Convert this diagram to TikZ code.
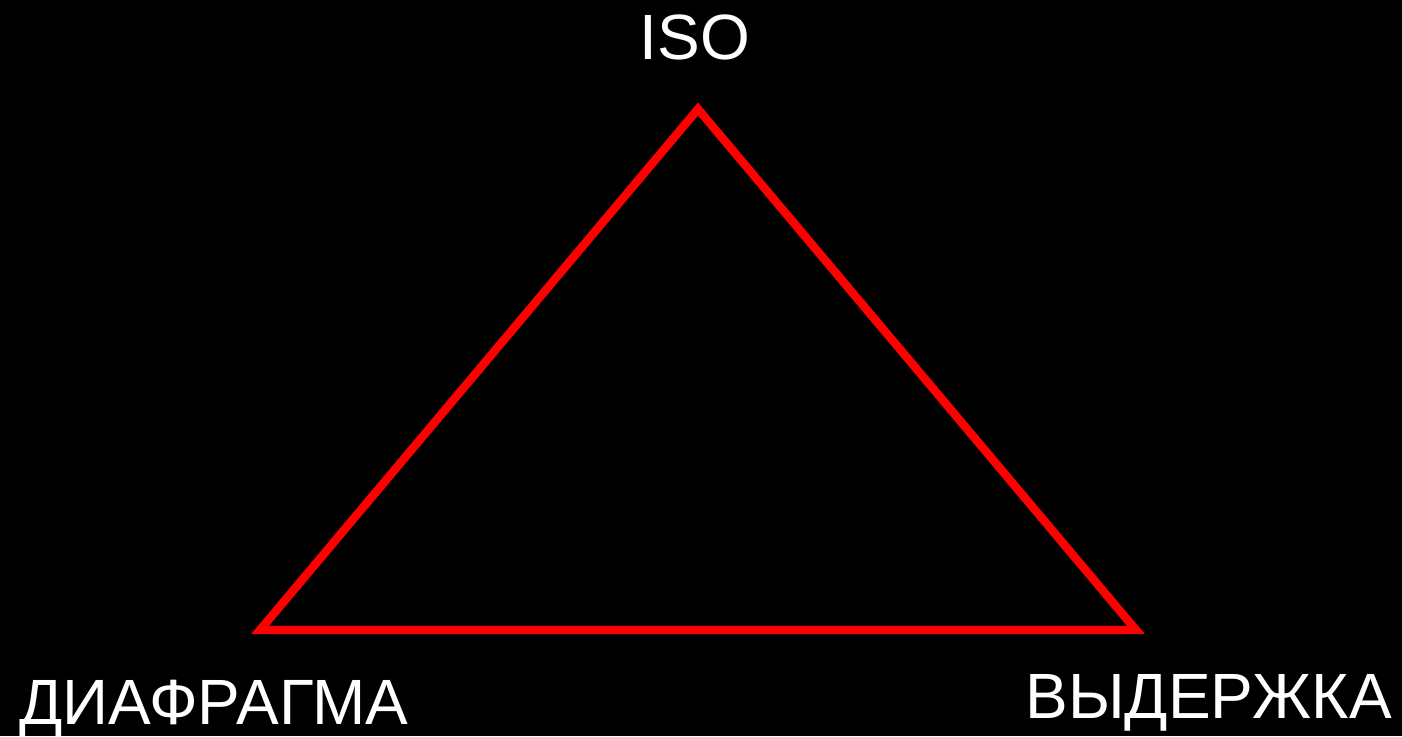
\documentclass[tikz,border=0pt]{standalone}
\usepackage{fontspec}
\setmainfont{Liberation Sans}
\begin{document}
\begin{tikzpicture}[x=0.5pt,y=-0.5pt,
  lbl/.style={text=white,inner sep=0pt,font=\fontsize{32}{36}\selectfont},
  edge/.style={draw=red,line width=4.2pt,line join=miter}]
\fill[black] (0,0) rectangle (1402,736);
\useasboundingbox (0,0) rectangle (1402,736);
\coordinate (top) at (698,109);
\coordinate (bl) at (260,630);
\coordinate (br) at (1136,630);
\draw[edge] (top) -- (bl) -- (br) -- cycle;
\node[lbl,anchor=base] (iso) at (695,59) {ISO};
\node[lbl,anchor=base west] (dia) at (19,724) {ДИАФРАГМА};
\node[lbl,anchor=base west] (vyd) at (1025,718) {ВЫДЕРЖКА};
\end{tikzpicture}
\end{document}
